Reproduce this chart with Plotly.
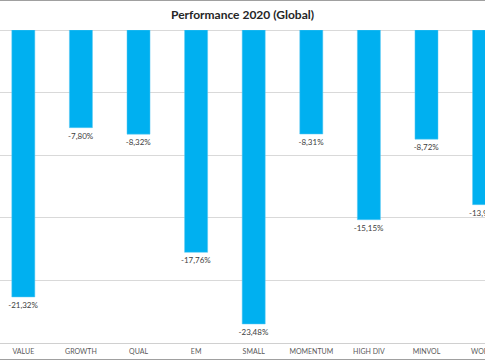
import plotly.graph_objects as go

categories = ["VALUE", "GROWTH", "QUAL", "EM", "SMALL", "MOMENTUM", "HIGH DIV", "MINVOL", "WORLD"]
values = [-21.32, -7.80, -8.32, -17.76, -23.48, -8.31, -15.15, -8.72, -13.95]
labels = [f"{v:.2f}%".replace(".", ",") for v in values]

fig = go.Figure(go.Bar(
    x=categories, y=values, text=labels, textposition="outside",
    textfont=dict(size=8, color="#404040", family="Lato"),
    constraintext="none",
    marker=dict(color="#00B0F0", line=dict(color="#5BC8F2", width=0.5)),
    cliponaxis=False, width=0.4,
))

fig.update_layout(
    width=485, height=360,
    margin=dict(l=0, r=0, t=30, b=17, autoexpand=False),
    paper_bgcolor="white", plot_bgcolor="white",
    title=dict(text="<b>Performance 2020 (Global)</b>", x=0.5, xanchor="center",
               y=1 - 14.5/360, yanchor="middle",
               font=dict(family="Lato", size=12, color="#262626")),
    showlegend=False,
    font=dict(family="Lato"),
)
fig.update_xaxes(
    range=[-0.405, 8.016], showgrid=False, showline=True, linecolor="#d0d0d0",
    tickfont=dict(size=7, color="#595959"), ticks="", ticklabelstandoff=2,
    automargin=False,
)
fig.update_yaxes(
    range=[-25, 0], dtick=5, showgrid=True, gridcolor="#d9d9d9", gridwidth=1,
    showticklabels=False, zeroline=True, zerolinecolor="#d9d9d9", zerolinewidth=1,
    automargin=False,
)
# chart border lines at top and bottom of image
fig.add_shape(type="line", xref="paper", yref="paper", x0=0, x1=1,
              y0=(343 - 0.5) / 313, y1=(343 - 0.5) / 313, line=dict(color="#a0a0a0", width=1))
fig.add_shape(type="line", xref="paper", yref="paper", x0=0, x1=1,
              y0=(343 - 359.5) / 313, y1=(343 - 359.5) / 313, line=dict(color="#a0a0a0", width=1))

fig.write_html("out.html", config={"displayModeBar": False},
               post_script="document.body.style.margin='0';document.body.style.padding='0';document.body.style.overflow='hidden';")
